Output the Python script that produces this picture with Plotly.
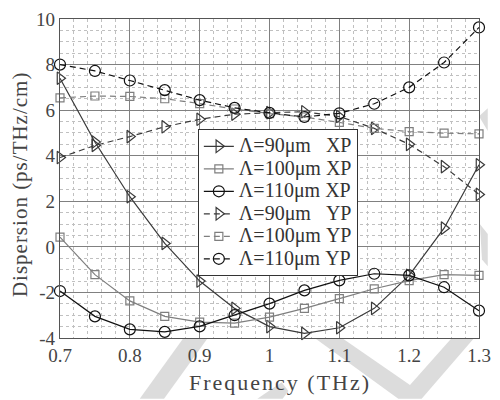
import plotly.graph_objects as go

freq = [0.7, 0.75, 0.8, 0.85, 0.9, 0.95, 1.0, 1.05, 1.1, 1.15, 1.2, 1.25, 1.3]

xp_90 = [7.4, 4.6, 2.2, 0.15, -1.5, -2.7, -3.5, -3.8, -3.55, -2.7, -1.25, 0.82, 3.6]
xp_100 = [0.43, -1.22, -2.37, -3.05, -3.3, -3.35, -3.08, -2.7, -2.27, -1.84, -1.48, -1.22, -1.25]
xp_110 = [-1.94, -3.05, -3.62, -3.73, -3.49, -3.0, -2.49, -1.91, -1.47, -1.18, -1.25, -1.77, -2.8]
yp_90 = [3.92, 4.45, 4.84, 5.27, 5.6, 5.82, 5.89, 5.93, 5.72, 5.2, 4.5, 3.52, 2.3]
yp_100 = [6.54, 6.62, 6.6, 6.5, 6.29, 6.05, 5.85, 5.7, 5.46, 5.2, 5.06, 4.99, 4.96]
yp_110 = [8.0, 7.72, 7.3, 6.88, 6.44, 6.1, 5.88, 5.7, 5.86, 6.28, 7.0, 8.09, 9.63]

series_names = ["Λ=90μm\u00a0\u00a0\u00a0XP", "Λ=100μm\u00a0XP", "Λ=110μm\u00a0XP",
                "Λ=90μm\u00a0\u00a0\u00a0YP", "Λ=100μm\u00a0YP", "Λ=110μm\u00a0YP"]

x_title = "Frequency (THz)"
y_title = "Dispersion (ps/THz/cm)"

x_ticks = [0.7, 0.8, 0.9, 1.0, 1.1, 1.2, 1.3]
x_ticktext = ["0.7", "0.8", "0.9", "1", "1.1", "1.2", "1.3"]
y_ticks = [-4, -2, 0, 2, 4, 6, 8, 10]
y_ticktext = ["-4", "-2", "0", "2", "4", "6", "8", "10"]

colors = ["#3a3a3a", "#7f7f7f", "#111111"]
symbols = ["triangle-right-open", "square-open", "circle-open"]
sizes = [11, 8, 11]

fig = go.Figure()
all_series = [xp_90, xp_100, xp_110, yp_90, yp_100, yp_110]
for i, ys in enumerate(all_series):
    k = i % 3
    dash = "solid" if i < 3 else "6px,4px"
    fig.add_trace(go.Scatter(
        x=freq, y=ys, mode="lines+markers",
        name='<span style="font-size:20px">' + series_names[i] + '</span>',
        line=dict(color=colors[k], width=1.2, dash=dash),
        marker=dict(symbol=symbols[k], size=sizes[k], color=colors[k],
                    line=dict(width=1.2, color=colors[k])),
        cliponaxis=False,
    ))

# watermark (pixel coordinates of the 500x400 page, converted to paper coords)
def px(xp, yp):
    return (xp - 60) / 431.0, (338 - yp) / 325.0

polys = [
    [(187, 338), (212, 338), (167, 400), (142, 400)],
    [(263, 400), (288, 383), (295, 392), (289, 400)],
    [(322, 338), (350, 338), (420, 386), (463, 338), (486, 338), (432, 400), (408, 400)],
    [(492, 222), (500, 232), (500, 265), (494, 258)],
    [(491, 112), (500, 104), (500, 127)],
]
shapes = []
for poly in polys:
    pts = [px(a, b) for a, b in poly]
    path = "M " + " L ".join(f"{a:.4f},{b:.4f}" for a, b in pts) + " Z"
    shapes.append(dict(type="path", xref="paper", yref="paper", path=path,
                       fillcolor="#dcdcdc", line=dict(width=0), layer="below"))

font_family = "Liberation Serif, Times New Roman, serif"
annotations = [
    dict(text='<span style="letter-spacing:2px">' + x_title + '</span>',
         xref="paper", yref="paper", x=0.524, y=-0.138,
         xanchor="center", yanchor="middle", showarrow=False,
         font=dict(family=font_family, size=22, color="#444444")),
    dict(text='<span style="letter-spacing:1px">' + y_title + '</span>',
         xref="paper", yref="paper", x=-0.095, y=0.483, textangle=-90,
         xanchor="center", yanchor="middle", showarrow=False,
         font=dict(family=font_family, size=21, color="#444444")),
]

fig.update_layout(
    width=500, height=400,
    margin=dict(l=60, r=9, t=13, b=62),
    paper_bgcolor="white", plot_bgcolor="white",
    font=dict(family=font_family, size=19, color="#444444"),
    shapes=shapes,
    annotations=annotations,
    showlegend=True,
    legend=dict(x=0.329, y=0.655, xanchor="left", yanchor="top",
                bgcolor="white", bordercolor="#333333", borderwidth=1,
                font=dict(family=font_family, size=15, color="#333333"),
                tracegroupgap=0, itemwidth=30),
    xaxis=dict(range=[0.7, 1.3], tickvals=x_ticks, ticktext=x_ticktext,
               showgrid=True, gridcolor="#808080", gridwidth=1,
               showline=True, linecolor="#555555", linewidth=1.2, mirror=True,
               ticks="", zeroline=False, ticklabeloverflow="allow",
               minor=dict(dtick=0.02, showgrid=True, gridcolor="#c0c0c0",
                          griddash="dot", gridwidth=1)),
    yaxis=dict(range=[-4, 10], tickvals=y_ticks, ticktext=y_ticktext,
               showgrid=True, gridcolor="#808080", gridwidth=1,
               showline=True, linecolor="#555555", linewidth=1.2, mirror=True,
               ticks="", zeroline=False, ticklabeloverflow="allow",
               minor=dict(dtick=0.5, showgrid=True, gridcolor="#c0c0c0",
                          griddash="dot", gridwidth=1)),
)

fig.write_html("out.html", config={"displayModeBar": False},
               post_script="document.body.style.margin='0';")
